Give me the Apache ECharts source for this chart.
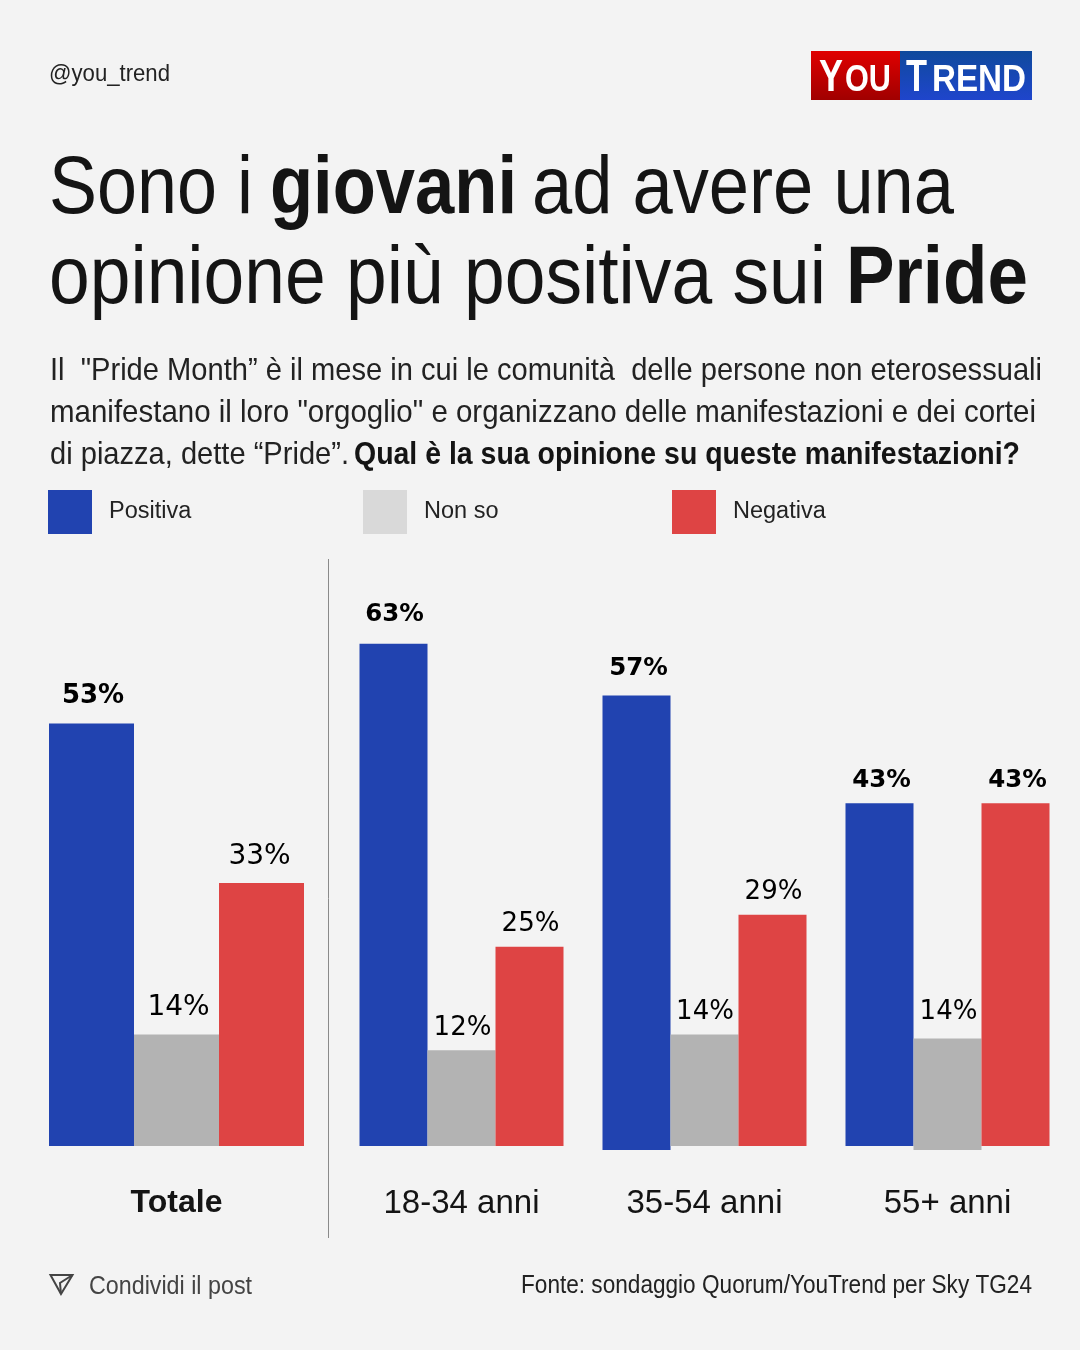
<!DOCTYPE html>
<html>
<head>
<meta charset="utf-8">
<style>
html, body { margin: 0; padding: 0; background: #f3f3f3; }
#layout { width: 1080px; height: 1350px; }
</style>
<script src="https://cdn.jsdelivr.net/npm/echarts@6/dist/echarts.min.js"></script>
</head>
<body>
<div id="layout"></div>
<script>
let totaleCategories = ['Totale'];
let totalePositiva = [53];
let totaleNonSo = [14];
let totaleNegativa = [33];

let etaCategories = ['18-34 anni', '35-54 anni', '55+ anni'];
let etaPositiva = [63, 57, 43];
let etaNonSo = [12, 14, 14];
let etaNegativa = [25, 29, 43];

// some bars hang a little under the baseline in the original
let etaPositivaSotto = [0, 0.5, 0];
let etaNonSoSotto = [0, 0, 0.5];

const BLUE = '#2143b0', GRAY = '#b3b3b3', RED = '#de4444', INK = '#141414';
const SANS = '"Liberation Sans", Arial, sans-serif';
const LABEL_FONT = '"DejaVu Sans", sans-serif';

let measure = document.createElement('canvas').getContext('2d');

// real text squeezed to the width it has in the original (its typeface is narrower)
function fitText(x, baseline, text, size, width, weight, color) {
    weight = weight || 'normal';
    measure.font = weight + ' ' + size + 'px ' + SANS;
    let natural = measure.measureText(text).width;
    return {
        type: 'text',
        x: x,
        y: baseline - size * 0.28,
        scaleX: width / natural,
        silent: true,
        style: {
            text: text,
            fill: color || INK,
            font: weight + ' ' + size + 'px ' + SANS,
            textAlign: 'left',
            textVerticalAlign: 'middle'
        }
    };
}

function pctLabels(values, size) {
    return {
        show: true,
        position: 'top',
        fontFamily: LABEL_FONT,
        fontSize: size,
        color: '#000',
        fontWeight: 'normal',
        formatter: function (p) { return values[p.dataIndex] + '%'; }
    };
}

// labelTweaks: [distance above bar, x nudge, bold size or 0] for each point
function barData(values, below, labelTweaks) {
    return values.map(function (v, i) {
        let t = labelTweaks[i];
        let label = { distance: t[0], offset: [t[1], 0] };
        if (t[2]) {
            label.fontWeight = 'bold';
            label.fontSize = t[2];
        }
        return { value: v - (below ? below[i] : 0), label: label };
    });
}

function legendFor(name, left, color) {
    return {
        left: left,
        top: 490,
        padding: 0,
        orient: 'horizontal',
        selectedMode: false,
        icon: 'rect',
        itemWidth: 44,
        itemHeight: 44,
        data: [{ name: name, itemStyle: { color: color } }],
        textStyle: { fontFamily: SANS, fontSize: 23.5, color: '#222', padding: [0, 0, 4, 12] }
    };
}

function categoryAxis(index, categories, weight, size, margin) {
    return {
        type: 'category',
        gridIndex: index,
        data: categories,
        axisLine: { show: false, onZero: false },
        axisTick: { show: false },
        axisLabel: { margin: margin, fontFamily: SANS, fontSize: size, fontWeight: weight, color: INK }
    };
}

function valueAxis(index) {
    return { type: 'value', gridIndex: index, min: -1, max: 70, show: false };
}

function bar(name, index, data, color, width, label, stack) {
    return {
        type: 'bar',
        name: name,
        xAxisIndex: index,
        yAxisIndex: index,
        data: data,
        stack: stack,
        barWidth: width,
        barGap: 0,
        itemStyle: { color: color },
        label: label
    };
}

let myChart = echarts.init(document.getElementById('layout'), null, { renderer: 'canvas' });

let option = {
    animation: false,
    backgroundColor: '#f3f3f3',
    legend: [
        legendFor('Positiva', 48, BLUE),
        legendFor('Non so', 363, '#d9d9d9'),
        legendFor('Negativa', 672, RED)
    ],
    grid: [
        { left: 49, width: 255, top: 588, height: 566 },
        { left: 340, width: 729, top: 588, height: 566 }
    ],
    xAxis: [categoryAxis(0, totaleCategories, 'bold', 32, 33), categoryAxis(1, etaCategories, 'normal', 33, 33)],
    yAxis: [valueAxis(0), valueAxis(1)],
    series: [
        bar('Positiva', 0, barData(totalePositiva, null, [[14, 1.5, 26]]), BLUE, 85, pctLabels(totalePositiva, 28), 't1'),
        bar('Non so', 0, barData(totaleNonSo, null, [[13, 2, 0]]), GRAY, 85, pctLabels(totaleNonSo, 28), 't2'),
        bar('Negativa', 0, barData(totaleNegativa, null, [[12, -2, 0]]), RED, 85, pctLabels(totaleNegativa, 28), 't3'),
        bar('Positiva', 1, barData(etaPositiva, etaPositivaSotto, [[17, 1, 24.5], [14, 2, 24.5], [10, 2, 24.5]]), BLUE, 68, pctLabels(etaPositiva, 26), 'e1'),
        bar('Non so', 1, barData(etaNonSo, etaNonSoSotto, [[9, 1, 0], [9, 0.5, 0], [13, 1, 0]]), GRAY, 68, pctLabels(etaNonSo, 26), 'e2'),
        bar('Negativa', 1, barData(etaNegativa, null, [[9, 1, 0], [10, 1, 0], [10, 2, 24.5]]), RED, 68, pctLabels(etaNegativa, 26), 'e3'),
        bar('Positiva sotto', 1, etaPositivaSotto.map(function (v) { return -v; }), BLUE, 68, { show: false }, 'e1'),
        bar('Non so sotto', 1, etaNonSoSotto.map(function (v) { return -v; }), GRAY, 68, { show: false }, 'e2')
    ],
    graphic: [
        // logo
        {
            type: 'rect', silent: true, shape: { x: 811, y: 51, width: 89, height: 49 },
            style: { fill: new echarts.graphic.LinearGradient(0, 0, 0, 1, [{ offset: 0, color: '#e00000' }, { offset: 1, color: '#a00000' }]) }
        },
        {
            type: 'rect', silent: true, shape: { x: 900, y: 51, width: 132, height: 49 },
            style: { fill: new echarts.graphic.LinearGradient(0, 0, 0, 1, [{ offset: 0, color: '#0f4a9c' }, { offset: 1, color: '#1f45cc' }]) }
        },
        fitText(819, 91, 'Y', 44, 24, 'bold', '#fff'),
        fitText(845, 91, 'OU', 36, 46, 'bold', '#fff'),
        fitText(906, 91, 'T', 44, 21, 'bold', '#fff'),
        fitText(932, 91, 'REND', 36, 94, 'bold', '#fff'),

        fitText(49, 81, '@you_trend', 24, 121, 'normal', '#222'),

        // title
        fitText(49, 213, 'Sono i', 82, 204),
        fitText(270, 213, 'giovani', 82, 247, 'bold'),
        fitText(532, 213, 'ad avere una', 82, 422),
        fitText(49, 303, 'opinione più positiva sui', 82, 777),
        fitText(846, 303, 'Pride', 82, 182, 'bold'),

        // intro
        fitText(50, 380, 'Il  "Pride Month” è il mese in cui le comunità  delle persone non eterosessuali', 32, 992, 'normal', '#222'),
        fitText(50, 422, 'manifestano il loro "orgoglio" e organizzano delle manifestazioni e dei cortei', 32, 986, 'normal', '#222'),
        fitText(50, 464, 'di piazza, dette “Pride”.', 32, 299, 'normal', '#222'),
        fitText(354, 464, 'Qual è la sua opinione su queste manifestazioni?', 32, 666, 'bold'),

        // divider
        {
            type: 'line', silent: true,
            shape: { x1: 328.5, y1: 559, x2: 328.5, y2: 1238 },
            style: { stroke: '#8a8a8a', lineWidth: 1 }
        },

        // footer
        {
            type: 'polygon', silent: true,
            shape: { points: [[50.5, 1275], [72.5, 1275], [61, 1294]] },
            style: { fill: 'none', stroke: '#444', lineWidth: 2 }
        },
        {
            type: 'polyline', silent: true,
            shape: { points: [[72.5, 1275], [60, 1283], [61, 1294]] },
            style: { fill: 'none', stroke: '#444', lineWidth: 2 }
        },
        fitText(89, 1294, 'Condividi il post', 26, 163, 'normal', '#444'),
        fitText(521, 1293, 'Fonte: sondaggio Quorum/YouTrend per Sky TG24', 25, 511, 'normal', '#222')
    ]
};
myChart.setOption(option);
window.onresize = myChart.resize;
</script>
</body>
</html>
